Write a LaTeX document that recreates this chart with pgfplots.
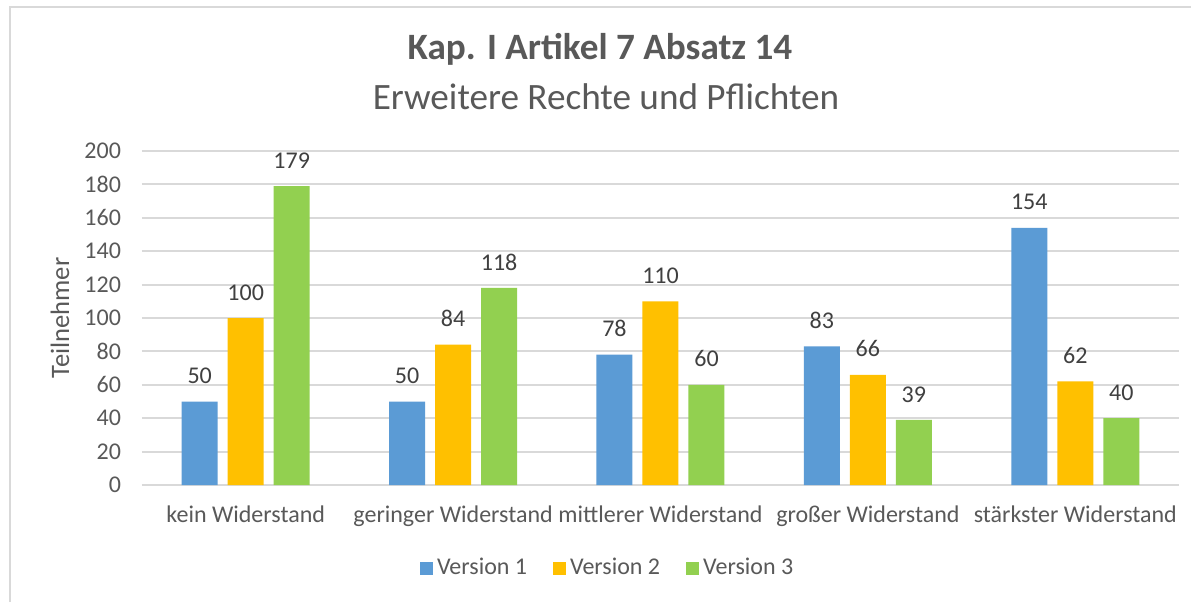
\documentclass[border=0pt]{standalone}
\usepackage{fontspec}
\setmainfont{Carlito}
\usepackage{pgfplots}
\pgfplotsset{compat=1.18}
\definecolor{v1}{RGB}{91,155,213}
\definecolor{v2}{RGB}{255,192,0}
\definecolor{v3}{RGB}{146,208,80}
\definecolor{txt}{RGB}{89,89,89}
\definecolor{lbl}{RGB}{64,64,64}
\definecolor{gridc}{RGB}{217,217,217}
\newcommand{\lab}{\fontsize{12}{14}\selectfont}

\begin{document}
\begin{tikzpicture}[x=1pt,y=1pt]
\path[use as bounding box, fill=white] (0,0) rectangle (595.5,301);
\draw[gridc, line width=1pt] (5,0) -- (5,297.5) -- (595.5,297.5);
\node[font=\fontsize{18.6}{22}\selectfont\bfseries, text=txt] at (300,276.5) {Kap. I Artikel 7 Absatz 14};
\node[font=\fontsize{18.6}{22}\selectfont, text=txt] at (303,252.5) {Erweitere Rechte und Pflichten};
\begin{axis}[
  at={(71pt,58.5pt)}, anchor=south west, scale only axis,
  width=518.5pt, height=167pt,
  ybar=5pt, bar width=18pt,
  xmin=-0.5, xmax=4.5, ymin=0, ymax=200,
  ytick={0,20,...,200},
  xtick=data,
  xticklabels={kein Widerstand, geringer Widerstand, mittlerer Widerstand, großer Widerstand, stärkster Widerstand},
  axis line style={draw=none}, major tick length=0pt,
  ymajorgrids, grid style={gridc, line width=1pt},
  tick label style={font=\lab, text=txt},
  /pgf/number format/assume math mode=true,
  yticklabel style={xshift=-7pt},
  xticklabel style={yshift=-7pt},
  ylabel={Teilnehmer},
  ylabel style={font=\fontsize{13.3}{15}\selectfont, text=txt, at={(axis description cs:-0.079,0.5)}, anchor=center},
  nodes near coords,
  every node near coord/.append style={font=\lab, text=lbl, yshift=5.3pt},
  legend columns=3,
  legend style={at={(axis description cs:0.450,-0.2485)}, anchor=center, draw=none, fill=none,
    font=\lab, text=txt, /tikz/every even column/.append style={column sep=11pt}},
  legend image code/.code={\fill[#1] (0pt,-3.25pt) rectangle (6.5pt,3.25pt);},
]
\addplot[fill=v1, draw=none] coordinates {(0,50) (1,50) (2,78) (3,83) (4,154)};
\addplot[fill=v2, draw=none] coordinates {(0,100) (1,84) (2,110) (3,66) (4,62)};
\addplot[fill=v3, draw=none] coordinates {(0,179) (1,118) (2,60) (3,39) (4,40)};
\legend{Version 1, Version 2, Version 3}
\end{axis}
\end{tikzpicture}
\end{document}
